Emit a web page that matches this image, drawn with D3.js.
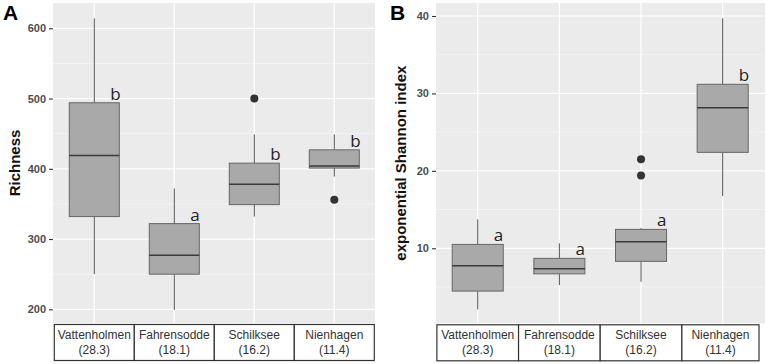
<!DOCTYPE html>
<html><head><meta charset="utf-8">
<script src="https://cdn.jsdelivr.net/npm/d3@7"></script>
<style>body{margin:0;background:#fff}svg{display:block}</style>
</head><body>
<svg id="c" width="767" height="364"></svg>
<script>
const categories = ["Vattenholmen","Fahrensodde","Schilksee","Nienhagen"];
const salinity = ["(28.3)","(18.1)","(16.2)","(11.4)"];

const richMin = [250, 199, 332, 389];
const richQ1  = [332, 250, 349, 401];
const richMed = [419, 277, 378, 404];
const richQ3  = [494, 322, 408, 427];
const richMax = [614, 372, 449, 449];
const richOut = [[], [], [500], [356]];
const richLetters = ["b","a","b","b"];
const richTicks = [200, 300, 400, 500, 600];
const richMinor = [250, 350, 450, 550];

const shanMin = [2.1, 5.25, 5.67, 16.74];
const shanQ1  = [4.47, 6.7, 8.31, 22.39];
const shanMed = [7.74, 7.35, 10.84, 28.15];
const shanQ3  = [10.5, 8.7, 12.44, 31.18];
const shanMax = [13.73, 10.63, 12.6, 39.7];
const shanOut = [[], [], [21.5, 19.4], []];
const shanLetters = ["a","a","a","b"];
const shanTicks = [10, 20, 30, 40];
const shanMinor = [5, 15, 25, 35];

const svg = d3.select("#c");

function panel(cfg){
  const g = svg.append("g");
  const x = d3.scalePoint().domain(categories).range(cfg.xr).padding(0.5);
  const y = d3.scaleLinear().domain(cfg.dom).range([cfg.yb, cfg.yt]);
  const step = x.step();
  const bw = step * 0.625;
  g.append("rect").attr("x", cfg.px0).attr("y", cfg.yt).attr("width", cfg.px1 - cfg.px0)
    .attr("height", cfg.yb - cfg.yt).attr("fill", "#ebebeb");
  g.selectAll(".mn").data(cfg.minor).enter().append("line")
    .attr("x1", cfg.px0).attr("x2", cfg.px1).attr("y1", d=>y(d)).attr("y2", d=>y(d))
    .attr("stroke", "#fafafa").attr("stroke-width", 0.6);
  g.selectAll(".mj").data(cfg.ticks).enter().append("line")
    .attr("x1", cfg.px0).attr("x2", cfg.px1).attr("y1", d=>y(d)).attr("y2", d=>y(d))
    .attr("stroke", "#fff").attr("stroke-width", 1.2);
  g.selectAll(".vx").data(categories).enter().append("line")
    .attr("x1", d=>x(d)).attr("x2", d=>x(d)).attr("y1", cfg.yt).attr("y2", cfg.yb)
    .attr("stroke", "#fff").attr("stroke-width", 1.2);
  const ax = g.append("g").attr("transform", `translate(${cfg.px0},0)`)
    .call(d3.axisLeft(y).tickValues(cfg.ticks).tickSize(4).tickPadding(3));
  ax.select(".domain").remove();
  ax.selectAll(".tick line").attr("stroke", "#333").attr("stroke-width", 1.1);
  ax.selectAll(".tick text").attr("fill", "#4d4d4d").style("font-family", "Liberation Sans, Arial, sans-serif")
    .style("font-size", "11px").style("font-weight", "bold");
  categories.forEach((c, i) => {
    const cx = x(c);
    const bg = g.append("g");
    bg.append("line").attr("x1", cx).attr("x2", cx).attr("y1", y(cfg.max[i])).attr("y2", y(cfg.q3[i]))
      .attr("stroke", "#555").attr("stroke-width", 1);
    bg.append("line").attr("x1", cx).attr("x2", cx).attr("y1", y(cfg.q1[i])).attr("y2", y(cfg.min[i]))
      .attr("stroke", "#555").attr("stroke-width", 1);
    bg.append("rect").attr("x", cx - bw/2).attr("y", y(cfg.q3[i])).attr("width", bw)
      .attr("height", y(cfg.q1[i]) - y(cfg.q3[i])).attr("fill", "#a9a9a9").attr("stroke", "#666").attr("stroke-width", 1);
    bg.append("line").attr("x1", cx - bw/2).attr("x2", cx + bw/2).attr("y1", y(cfg.med[i])).attr("y2", y(cfg.med[i]))
      .attr("stroke", "#3a3a3a").attr("stroke-width", 1.6);
    cfg.out[i].forEach(v => {
      bg.append("circle").attr("cx", cx).attr("cy", y(v)).attr("r", 4).attr("fill", "#333");
    });
    bg.append("text").attr("x", cx + 16).attr("y", y(cfg.q3[i]) - 3).text(cfg.letters[i])
      .attr("fill", "#222").style("font-family", "Open Sans, sans-serif").style("font-size", "17px");
  });
  const sy0 = cfg.yb + 1.5, sh = 36;
  categories.forEach((c, i) => {
    const l = x(c) - step/2;
    const r = Math.min(x(c) + step/2, cfg.stripMax);
    g.append("rect").attr("x", l).attr("y", sy0).attr("width", r - l).attr("height", sh)
      .attr("fill", "#fff").attr("stroke", "#333").attr("stroke-width", 1.2);
    const mid = (l + r)/2;
    const t = g.append("text").attr("text-anchor", "middle").attr("fill", "#333")
      .style("font-family", "Liberation Sans, Arial, sans-serif").style("font-size", "12px");
    t.append("tspan").attr("x", mid).attr("y", sy0 + 14).text(c);
    t.append("tspan").attr("x", mid).attr("y", sy0 + 29).text(salinity[i]);
  });
  g.append("text").attr("transform", `translate(${cfg.titleX},${(cfg.yt + cfg.yb)/2}) rotate(-90)`)
    .attr("text-anchor", "middle").text(cfg.title).attr("fill", "#111")
    .style("font-family", "Liberation Sans, Arial, sans-serif").style("font-size", "15px").style("font-weight", "bold");
  g.append("text").attr("x", cfg.letterX).attr("y", 20).text(cfg.letter).attr("fill", "#000")
    .style("font-family", "Liberation Sans, Arial, sans-serif").style("font-size", "21px").style("font-weight", "bold");
}

panel({xr: [54.3, 374.3], px0: 53, px1: 375, yt: 3, yb: 323, dom: [180.5, 636],
  ticks: richTicks, minor: richMinor, min: richMin, q1: richQ1, med: richMed, q3: richQ3, max: richMax,
  out: richOut, letters: richLetters, stripMax: 999, title: "Richness", titleX: 20, letter: "A", letterX: 3});

panel({xr: [436.9, 763.5], px0: 436, px1: 765, yt: 3, yb: 323.3, dom: [0.31, 41.68],
  ticks: shanTicks, minor: shanMinor, min: shanMin, q1: shanQ1, med: shanMed, q3: shanQ3, max: shanMax,
  out: shanOut, letters: shanLetters, stripMax: 759, title: "exponential Shannon index", titleX: 406, letter: "B", letterX: 390});
</script>
</body></html>
